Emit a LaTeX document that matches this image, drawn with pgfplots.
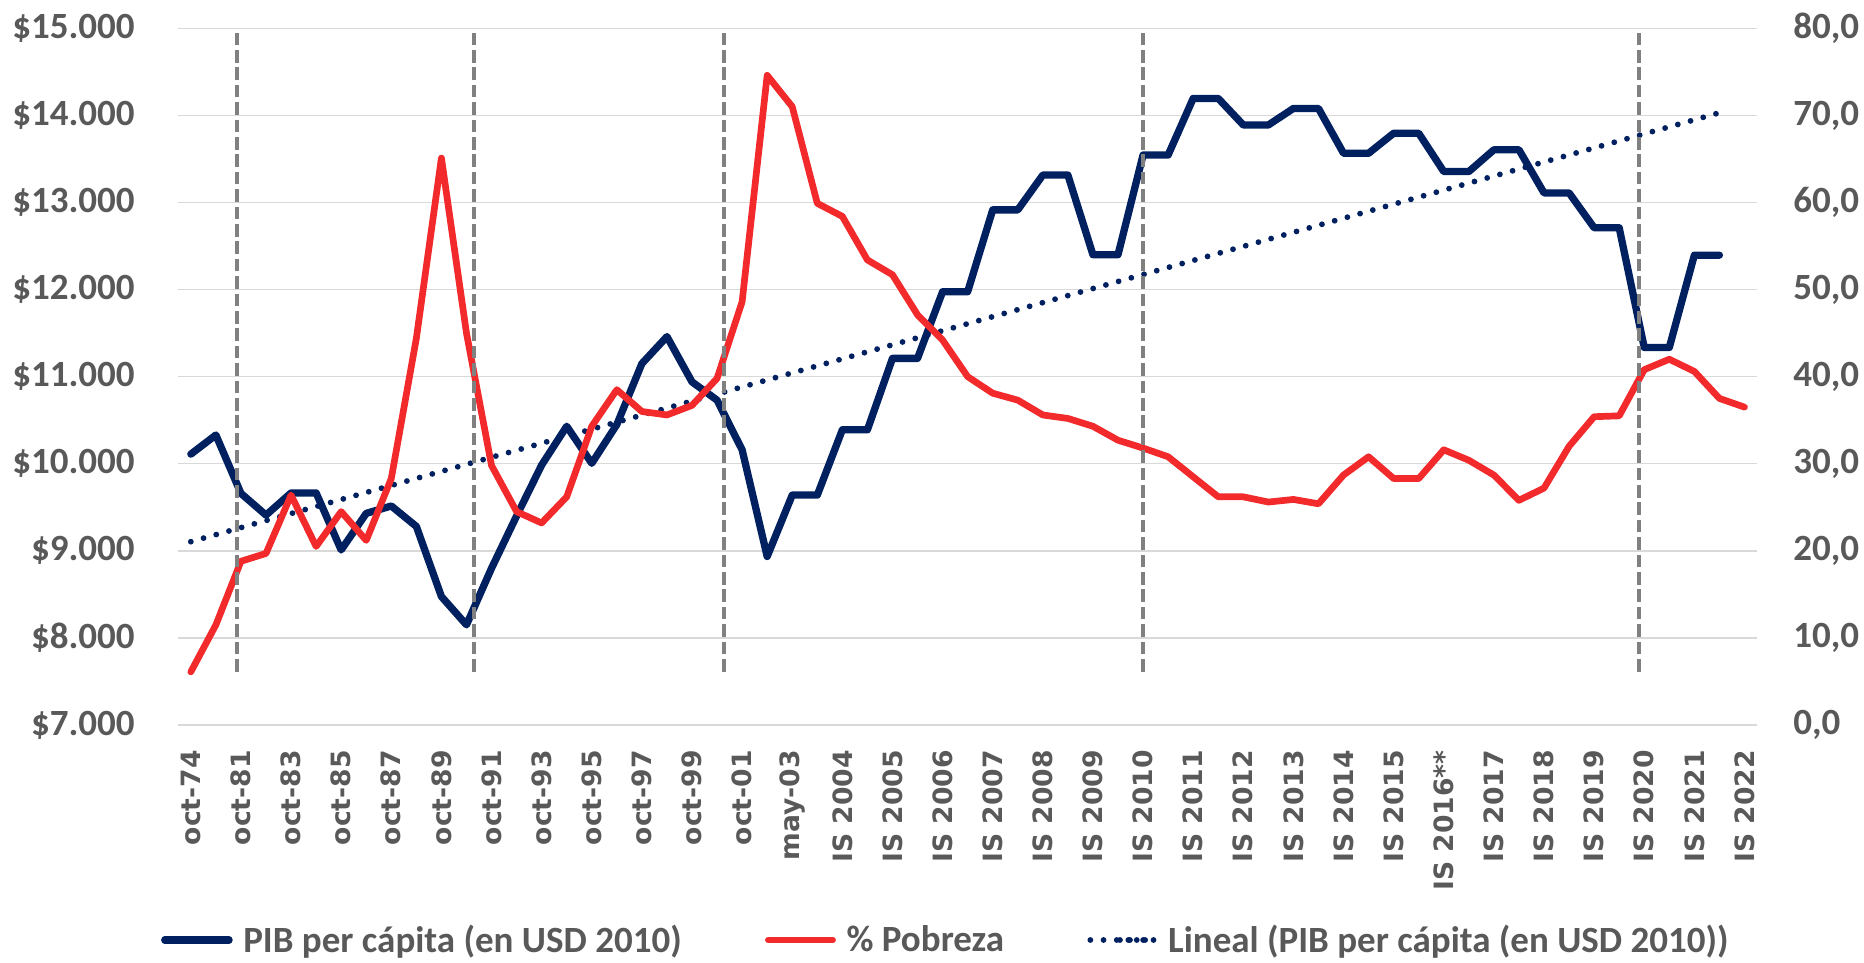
\documentclass[border=0pt]{standalone}
\usepackage{fontspec}
\usepackage{pgfplots}
\usepackage{pgfplotstable}
\pgfplotsset{compat=1.18}

\newfontfamily\calib{Carlito}
\newfontfamily\verd{DejaVu Sans}

\definecolor{pibc}{RGB}{0,32,96}
\definecolor{pobc}{RGB}{242,42,44}
\definecolor{txt}{RGB}{89,89,89}
\definecolor{grd}{RGB}{217,217,217}
\definecolor{vdash}{RGB}{128,128,128}

\pgfplotsset{
  trendlegend/.style={legend image code/.code={\path (0pt,0pt) -- (32.15pt,0pt);
    \draw[##1, dash pattern=on 0pt off 4.2pt] (14.8pt,0pt) -- (31.6pt,0pt);}},
}

% PIB per capita (USD 2010), one row per category
\pgfplotstableread{
k pib
0 10110
1 10330
2 9660
3 9410
4 9665
5 9665
6 9010
7 9430
8 9515
9 9280
10 8475
11 8150
12 8800
13 9400
14 9985
15 10430
16 10005
17 10450
18 11150
19 11460
20 10940
21 10730
22 10160
23 8935
24 9640
25 9640
26 10390
27 10390
28 11210
29 11210
30 11975
31 11975
32 12915
33 12915
34 13315
35 13315
36 12400
37 12400
38 13545
39 13545
40 14195
41 14195
42 13890
43 13890
44 14080
45 14080
46 13565
47 13565
48 13795
49 13795
50 13355
51 13355
52 13605
53 13605
54 13110
55 13110
56 12710
57 12710
58 11335
59 11335
60 12395
61 12395
}\pibtable

% % Pobreza
\pgfplotstableread{
k pob
0 6.1
1 11.5
2 18.8
3 19.7
4 26.4
5 20.5
6 24.5
7 21.2
8 28.3
9 44.4
10 65.1
11 45.0
12 29.8
13 24.5
14 23.2
15 26.2
16 34.3
17 38.5
18 36.0
19 35.6
20 36.7
21 39.8
22 48.6
23 74.6
24 71.0
25 59.9
26 58.4
27 53.4
28 51.7
29 47.1
30 44.2
31 40.0
32 38.1
33 37.3
34 35.6
35 35.2
36 34.3
37 32.7
38 31.8
39 30.8
40 28.5
41 26.2
42 26.2
43 25.6
44 25.9
45 25.4
46 28.7
47 30.8
48 28.3
49 28.3
50 31.6
51 30.4
52 28.7
53 25.8
54 27.2
55 32.0
56 35.4
57 35.5
58 40.8
59 42.0
60 40.6
61 37.5
62 36.5
}\pobtable

\begin{document}
\begin{tikzpicture}
\path[use as bounding box] (0,0) rectangle (932pt,481.5pt);
\pgfplotsset{
  base/.style={
    at={(89.15pt,119pt)}, anchor=south west,
    scale only axis, width=789.35pt, height=348.35pt,
    xmin=-0.5, xmax=62.5,
    axis line style={draw=none}, tick style={draw=none},
  },
}
\begin{axis}[base,
  ymin=7000, ymax=15000,
  scaled y ticks=false,
  ytick={7000,8000,...,15000},
  yticklabels={\$7.000,\$8.000,\$9.000,\$10.000,\$11.000,\$12.000,\$13.000,\$14.000,\$15.000},
  yticklabel style={font=\calib\bfseries\fontsize{18.5}{18.5}\selectfont, text=txt, inner sep=0pt, xshift=-21.6pt},
  ymajorgrids, grid style={grd, line width=0.75pt},
  xtick={0,2,...,62},
  xticklabels={oct-74,oct-81,oct-83,oct-85,oct-87,oct-89,oct-91,oct-93,oct-95,oct-97,oct-99,oct-01,may-03,IS 2004,IS 2005,IS 2006,IS 2007,IS 2008,IS 2009,IS 2010,IS 2011,IS 2012,IS 2013,IS 2014,IS 2015,IS 2016**,IS 2017,IS 2018,IS 2019,IS 2020,IS 2021,IS 2022},
  xticklabel style={font=\verd\bfseries\fontsize{13.3}{13.3}\selectfont, text=txt, inner sep=0pt, yshift=-12.5pt, rotate=90, anchor=east},
  legend columns=3,
  legend cell align=left,
  legend image code/.code={\draw[#1] (0pt,0pt) -- (32.15pt,0pt);},
  legend style={draw=none, fill=none, inner sep=0pt, outer sep=0pt,
    at={(-0.0109,0)}, anchor=west, yshift=-107.5pt,
    nodes={inner sep=0pt},
    font=\calib\bfseries\fontsize{18.5}{18.5}\selectfont, text=txt,
    /tikz/every odd column/.append style={column sep=5.3pt},
    /tikz/every even column/.append style={column sep=41.6pt}},
]
\addplot[pibc, line width=3.65pt, line join=round, line cap=round] table[x=k, y=pib] {\pibtable};
\addlegendentry{PIB per cápita (en USD 2010)}
\addlegendimage{pobc, line width=3.35pt, line cap=round}
\addlegendentry{\% Pobreza}
\addplot[pibc, line width=2.9pt, line cap=round, dash pattern=on 0pt off 6.6pt, trendlegend]
  coordinates {(0,9105) (61,14030)};
\addlegendentry{Lineal (PIB per cápita (en USD 2010))}
\end{axis}

\begin{axis}[base,
  ymin=0, ymax=80,
  axis y line*=right, hide x axis,
  ytick={0,10,...,80},
  yticklabels={{0,0},{10,0},{20,0},{30,0},{40,0},{50,0},{60,0},{70,0},{80,0}},
  yticklabel style={font=\calib\bfseries\fontsize{18.5}{18.5}\selectfont, text=txt, inner sep=0pt, anchor=west, xshift=18pt},
]
\addplot[pobc, line width=3.35pt, line join=round, line cap=round] table[x=k, y=pob] {\pobtable};
% vertical dashed reference lines
\addplot[vdash, line width=1.9pt, dash pattern=on 6.3pt off 2.4pt] coordinates {(1.85,6.12) (1.85,80)};
\addplot[vdash, line width=1.9pt, dash pattern=on 6.3pt off 2.4pt] coordinates {(11.3,6.12) (11.3,80)};
\addplot[vdash, line width=1.9pt, dash pattern=on 6.3pt off 2.4pt] coordinates {(21.27,6.12) (21.27,80)};
\addplot[vdash, line width=1.9pt, dash pattern=on 6.3pt off 2.4pt] coordinates {(38.0,6.12) (38.0,80)};
\addplot[vdash, line width=1.9pt, dash pattern=on 6.3pt off 2.4pt] coordinates {(57.8,6.12) (57.8,80)};
\end{axis}
\end{tikzpicture}
\end{document}
